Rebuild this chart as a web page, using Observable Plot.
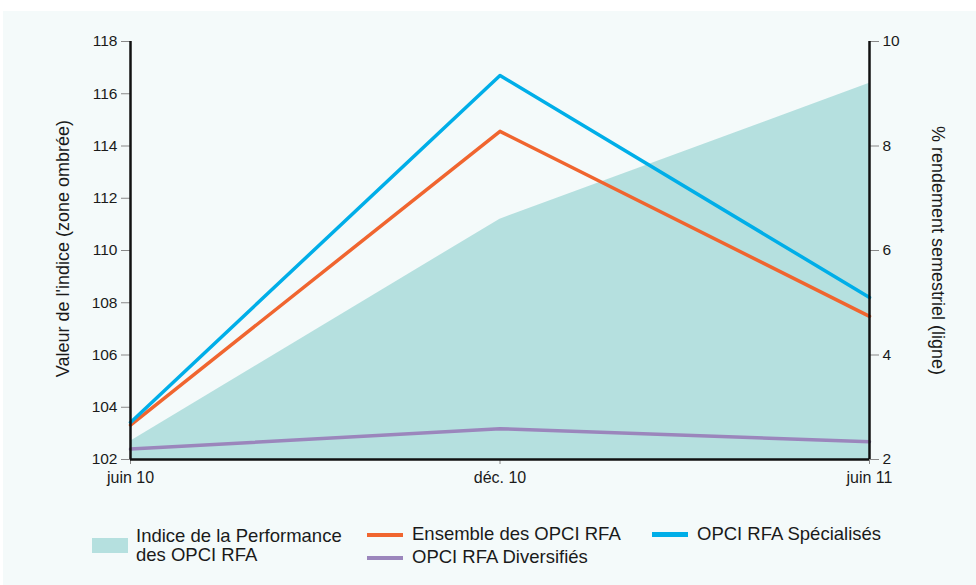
<!DOCTYPE html>
<html><head><meta charset="utf-8">
<script src="https://cdn.jsdelivr.net/npm/d3@7"></script>
<script src="https://cdn.jsdelivr.net/npm/@observablehq/plot@0.6"></script>
<style>
html,body{margin:0;padding:0;background:#fff;}
#bg{position:absolute;left:3px;top:11px;width:973px;height:574px;background:#f4fafa;}
#chart{position:absolute;left:0;top:0;}
.leg{position:absolute;font-family:"Liberation Sans",Arial,sans-serif;font-size:18.5px;color:#1a1a1a;line-height:19.5px;white-space:nowrap;}
.sw{position:absolute;}
</style></head>
<body>
<div id="bg"></div>
<div id="chart"></div>
<div class="sw" style="left:92px;top:538px;width:36px;height:15px;background:#b5e0df"></div>
<div class="leg" style="left:136px;top:525.5px;">Indice de la Performance<br>des OPCI RFA</div>
<div class="sw" style="left:367px;top:532.5px;width:36px;height:4.5px;background:#f0652f"></div>
<div class="leg" style="left:412px;top:524px;">Ensemble des OPCI RFA</div>
<div class="sw" style="left:367px;top:555.5px;width:36px;height:4.5px;background:#9b86bc"></div>
<div class="leg" style="left:412px;top:547.2px;">OPCI RFA Diversifiés</div>
<div class="sw" style="left:652px;top:532px;width:36px;height:4.5px;background:#00aee8"></div>
<div class="leg" style="left:697px;top:524px;">OPCI RFA Spécialisés</div>
<script>
const periods = ["juin 10", "déc. 10", "juin 11"];
const indice = [102.7, 111.2, 116.4];
const ensemble = [2.66, 8.28, 4.74];
const specialises = [2.71, 9.35, 5.10];
const diversifies = [2.20, 2.59, 2.34];
const leftTicks = [102, 104, 106, 108, 110, 112, 114, 116, 118];
const rightTicks = [2, 4, 6, 8, 10];

// right-axis (%) mapped onto left-axis scale: 2..10 -> 102..118
const toLeft = v => 102 + (v - 2) * 2;

const areaData = periods.map((p, i) => ({i, v: indice[i]}));
const series = [
  {name: "Ensemble", vals: ensemble, color: "#f0652f"},
  {name: "Diversifiés", vals: diversifies, color: "#9b86bc"},
  {name: "Spécialisés", vals: specialises, color: "#00aee8"}
];
const lineData = series.flatMap(s => s.vals.map((v, i) => ({i, v, name: s.name, color: s.color})));

const font = "Liberation Sans, Arial, sans-serif";
const chart = Plot.plot({
  width: 976,
  height: 490,
  marginLeft: 130,
  marginRight: 107,
  marginTop: 41,
  marginBottom: 31,
  style: {background: "transparent", fontFamily: font, fontSize: "15.5px", color: "#1a1a1a"},
  x: {domain: [0, 2]},
  y: {domain: [102, 118]},
  marks: [
    Plot.areaY(areaData, {x: "i", y1: 102, y2: "v", fill: "#b5e0df"}),
    Plot.line(lineData, {x: "i", y: d => toLeft(d.v), z: "name", stroke: "color", strokeWidth: 3.5}),
    Plot.axisY({ticks: leftTicks, tickSize: 9, tickPadding: 4, stroke: "#888", label: null, fontSize: 15.5}),
    Plot.axisY({anchor: "right", ticks: rightTicks.map(toLeft), tickFormat: v => String((v - 102) / 2 + 2), tickSize: 9, tickPadding: 4, stroke: "#888", label: null, fontSize: 15.5}),
    Plot.axisX({ticks: [0, 1, 2], tickFormat: i => periods[i], tickSize: 5, tickPadding: 7, stroke: "#888", label: null, fontSize: 16}),
    Plot.ruleY([102], {stroke: "#111", strokeWidth: 2.5}),
    Plot.ruleX([0, 2], {stroke: "#111", strokeWidth: 2.5}),
    Plot.text(["Valeur de l'indice (zone ombrée)"], {frameAnchor: "left", dx: -67, dy: -2, rotate: -90, fontSize: 18, fill: "#1a1a1a", textAnchor: "middle"}),
    Plot.text(["% rendement semestriel (ligne)"], {frameAnchor: "right", dx: 68.5, rotate: 90, fontSize: 18, fill: "#1a1a1a", textAnchor: "middle"})
  ]
});
document.getElementById("chart").appendChild(chart);
</script>
</body></html>
